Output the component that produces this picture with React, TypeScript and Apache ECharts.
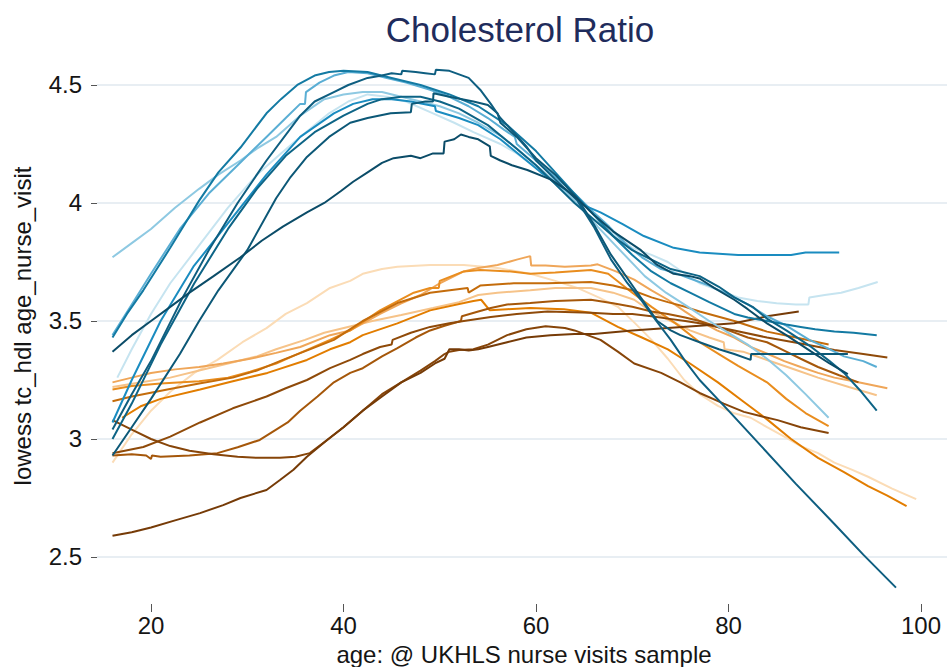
import React, { useEffect, useRef } from "react";
import * as echarts from "echarts";

// Axis ticks
const xTicks = [20, 40, 60, 80, 100];
const yTicks = [2.5, 3, 3.5, 4, 4.5];

// Lowess curves, [age, tc_hdl]
const bSky = [[16,3.77],[18,3.83],[20,3.89],[22.5,3.98],[25,4.06],[27,4.12],[29.3,4.18],[31,4.23],[33,4.28],[35.5,4.37],[38,4.44],[40,4.46],[42,4.47],[44,4.47],[46,4.45],[48,4.43],[50,4.41],[52,4.38],[54,4.34],[56.5,4.28],[58,4.23],[60,4.16],[62,4.09],[64,4.01],[66.4,3.9],[68.5,3.81],[71.3,3.69],[73.5,3.62],[75.8,3.56],[78,3.5],[80,3.45],[82,3.4],[84,3.34],[86,3.27],[88,3.19],[90.4,3.09]];
const bPale = [[16.5,3.26],[18,3.38],[20,3.53],[22,3.66],[25,3.82],[28,3.98],[31,4.12],[33.5,4.21],[35.5,4.28],[38.5,4.38],[40.5,4.43],[42.5,4.46],[44.5,4.45],[46.5,4.43],[49.3,4.38],[51.5,4.34],[53.5,4.3],[56.3,4.25],[58,4.21],[60,4.15],[62,4.08],[64,4.0],[66,3.93],[68,3.87],[70,3.81],[72,3.78],[73.7,3.75],[75.5,3.7],[77,3.66],[79,3.63],[81,3.6],[83,3.585],[85,3.575],[87,3.57],[88.3,3.57],[88.4,3.6],[90,3.61],[91.7,3.62],[93.5,3.64],[95.5,3.665]];
const bMid = [[16,3.44],[18,3.57],[20,3.7],[23,3.89],[26,4.04],[29,4.16],[32,4.28],[34,4.36],[35.5,4.42],[36,4.42],[36.1,4.47],[37.5,4.51],[39,4.54],[40.5,4.555],[42.5,4.55],[44.5,4.53],[46.5,4.51],[49,4.48],[51,4.45],[53,4.41],[55,4.36],[56.7,4.31],[57.8,4.28],[58,4.25],[60,4.18],[62,4.11],[64,4.04],[66,3.96],[67.6,3.9],[69.5,3.82],[71,3.77],[73,3.72],[74,3.71],[76,3.68],[78,3.65],[80.6,3.6],[82,3.57],[84,3.52],[86,3.48],[88.4,3.42],[90,3.39],[92,3.35],[94,3.33],[95.4,3.305]];
const bBright = [[16,3.07],[18,3.25],[21,3.5],[24.4,3.73],[28.5,3.94],[32,4.12],[35.5,4.28],[39,4.38],[41,4.42],[43,4.44],[45,4.44],[47,4.43],[49.5,4.41],[49.6,4.39],[52,4.36],[54,4.33],[56.3,4.27],[58.4,4.2],[60.5,4.13],[63.3,4.05],[65,3.99],[66.7,3.96],[69,3.91],[71.2,3.86],[74.3,3.81],[77,3.79],[79,3.785],[81,3.78],[83,3.78],[85,3.78],[86.5,3.78],[88,3.79],[90,3.79],[91.5,3.79]];
const bPeak = [[16,3.43],[17.5,3.53],[19.2,3.63],[22,3.81],[25,4.01],[27,4.13],[29.3,4.235],[32,4.38],[33.5,4.44],[35.2,4.5],[37,4.54],[38.5,4.555],[40,4.56],[42.5,4.555],[45,4.53],[48,4.5],[51,4.46],[54,4.41],[57,4.33],[60,4.22],[62,4.13],[64,4.04],[66,3.95],[68,3.86],[70,3.78],[72,3.71],[74,3.66],[76,3.62],[78,3.58],[80.6,3.53],[82,3.515],[84,3.5],[86,3.485],[87.5,3.475],[89,3.465],[91,3.455],[93,3.45],[95.4,3.44]];
const bDeep = [[16,3.0],[18,3.15],[21,3.4],[24.5,3.66],[28,3.89],[31,4.06],[34,4.2],[37,4.3],[40,4.37],[42.5,4.42],[44,4.44],[46,4.45],[48,4.45],[50,4.43],[52,4.4],[55,4.33],[58,4.23],[60,4.16],[62,4.08],[64,4.0],[66,3.93],[68,3.86],[70,3.8],[72,3.76],[74,3.72],[77,3.69],[79,3.645],[80.6,3.6],[82.5,3.56],[84,3.51],[86,3.46],[88.6,3.39],[90.5,3.33],[92,3.28],[93.8,3.2],[95.4,3.12]];
const bNavy = [[16,3.37],[18,3.44],[20,3.5],[22,3.56],[24,3.62],[26.5,3.69],[29.3,3.77],[31.5,3.84],[33.7,3.9],[36.2,3.96],[38,4.0],[39.7,4.05],[41,4.09],[42.5,4.13],[44,4.17],[45.2,4.19],[47,4.2],[48,4.19],[49.3,4.21],[50.4,4.21],[50.5,4.26],[51.5,4.27],[52.2,4.29],[53,4.28],[54,4.27],[55.2,4.24],[55.3,4.2],[56.3,4.18],[57.5,4.16],[59.1,4.14],[61.5,4.1],[63,4.06],[64.5,4.01],[66,3.95],[68,3.88],[70.9,3.8],[72.5,3.74],[74.3,3.7],[76,3.69],[77,3.68],[78.5,3.64],[80.6,3.59],[82,3.55],[84,3.49],[86,3.44],[88.6,3.37],[90.5,3.32],[92.4,3.275]];
const bHook = [[16,2.93],[18,3.05],[20,3.17],[23,3.36],[25,3.5],[27,3.63],[30,3.8],[33,4.02],[34.5,4.11],[36.2,4.195],[38.5,4.28],[40.7,4.34],[42.5,4.36],[44.9,4.38],[47,4.385],[47.1,4.42],[48.5,4.43],[49.3,4.43],[49.35,4.465],[51,4.45],[53.5,4.43],[55,4.415],[56,4.38],[56.3,4.34],[58,4.28],[60,4.19],[62,4.12],[64.3,4.02],[66,3.91],[67.8,3.78],[70.2,3.64],[72.6,3.5],[74,3.46],[75,3.44],[77,3.41],[79,3.38],[80.6,3.36],[82.3,3.335],[82.35,3.36],[84,3.36],[87,3.36],[90,3.36],[92.4,3.36]];
const bLong = [[16,3.04],[18,3.19],[20,3.33],[23.3,3.6],[26,3.8],[29,4.0],[32,4.18],[35.5,4.37],[37,4.43],[39,4.47],[40.5,4.5],[42.5,4.53],[44,4.54],[45,4.55],[46,4.545],[46.1,4.56],[47.5,4.555],[48.5,4.55],[49.5,4.545],[49.6,4.565],[51,4.56],[52,4.545],[53,4.53],[54.2,4.48],[55.3,4.42],[56.3,4.36],[57.7,4.3],[59,4.24],[60,4.18],[62,4.1],[64.3,4.01],[66,3.9],[67.8,3.76],[69.5,3.66],[70.9,3.59],[72.5,3.5],[74,3.42],[75.5,3.33],[77,3.25],[80,3.12],[83.4,2.97],[87,2.81],[91,2.64],[94,2.51],[97.4,2.37]];

const oPale = [[16,2.9],[18,3.02],[20,3.12],[22,3.2],[24.5,3.28],[26.9,3.335],[29.5,3.41],[32,3.47],[34,3.53],[36.2,3.576],[38.6,3.64],[40.7,3.67],[42,3.7],[44,3.72],[45.6,3.73],[49,3.737],[52.5,3.737],[56,3.725],[59.4,3.7],[62,3.67],[64.3,3.64],[66.5,3.6],[68.5,3.56],[70.3,3.49],[72,3.42],[73.7,3.34],[75.4,3.25],[77,3.19],[78.9,3.14],[80.5,3.11],[82.3,3.09],[84,3.05],[85.8,3.01],[87.5,2.97],[89.3,2.94],[91,2.9],[92.8,2.87],[94.5,2.84],[97,2.79],[99.5,2.745]];
const oLight2 = [[16,3.22],[19,3.24],[22,3.26],[25,3.29],[28,3.32],[31,3.35],[33,3.38],[36,3.42],[38,3.45],[41,3.48],[43,3.5],[46,3.525],[49.3,3.555],[52,3.58],[54,3.61],[56,3.62],[59.4,3.63],[62,3.64],[65.7,3.64],[68,3.62],[70.2,3.59],[72,3.54],[74,3.5],[76,3.46],[78,3.43],[79.5,3.41],[79.6,3.38],[81.5,3.37],[84,3.335],[86.5,3.3],[89.3,3.26],[92.5,3.22],[95.4,3.185]];
const oLight = [[16,3.24],[18,3.26],[20,3.28],[22.5,3.295],[25,3.305],[27.5,3.32],[30.3,3.34],[33,3.365],[35.5,3.39],[38.6,3.44],[40.7,3.46],[43.8,3.53],[46,3.575],[48,3.61],[50,3.66],[52.5,3.71],[54,3.725],[56,3.737],[58,3.76],[59.4,3.775],[59.5,3.735],[61,3.735],[63,3.73],[65.7,3.735],[66.4,3.74],[68.3,3.71],[70.2,3.675],[72,3.63],[73.7,3.59],[75.5,3.54],[77,3.5],[78.8,3.46],[80.6,3.43],[82.3,3.39],[84.1,3.36],[85.8,3.33],[87.5,3.305],[89.3,3.28],[91,3.26],[93.5,3.24],[96.5,3.215]];
const oOrange = [[16,3.21],[18,3.225],[21,3.235],[25,3.245],[28,3.26],[30.3,3.285],[33,3.32],[35.5,3.365],[38.6,3.42],[40.7,3.46],[43.8,3.545],[47.3,3.62],[49,3.64],[49.9,3.64],[50,3.67],[52.5,3.71],[54.2,3.716],[57.4,3.71],[59.4,3.7],[62,3.705],[65.7,3.716],[67.5,3.7],[70,3.62],[72,3.56],[74.5,3.49],[77,3.41],[79,3.36],[81,3.31],[84,3.24],[86,3.17],[88,3.11],[90.4,3.055]];
const oBright = [[17,3.09],[19,3.14],[21,3.17],[25.1,3.21],[28.5,3.245],[32.1,3.28],[36.2,3.335],[38.6,3.38],[40.7,3.41],[42,3.44],[45.6,3.49],[49,3.545],[52.5,3.576],[53.5,3.585],[54.3,3.59],[55.2,3.545],[57,3.55],[59.4,3.555],[62.9,3.55],[65.7,3.535],[68.5,3.475],[71,3.43],[73.7,3.38],[76,3.32],[78.9,3.24],[81.5,3.16],[84.1,3.08],[86.5,3.0],[89.3,2.92],[92,2.86],[94.5,2.8],[96.5,2.76],[98.5,2.716]];
const oDarkOr = [[16,3.16],[18,3.18],[21.7,3.21],[25,3.235],[28.5,3.26],[31,3.29],[33.7,3.335],[36.5,3.38],[39,3.42],[40.5,3.46],[42,3.5],[45.6,3.576],[49,3.62],[52.9,3.64],[53,3.62],[54.2,3.65],[57.7,3.66],[61.2,3.66],[65.7,3.665],[68,3.65],[70,3.63],[72,3.6],[73.7,3.58],[75.5,3.56],[77,3.54],[80.6,3.5],[84,3.455],[87,3.43],[90.4,3.4]];
const oBrownA = [[16,2.93],[18,2.935],[19.5,2.93],[20,2.915],[20.1,2.93],[21,2.925],[24,2.93],[26.9,2.94],[29,2.965],[31.3,2.996],[33,3.04],[34.2,3.07],[35.5,3.12],[37.3,3.18],[39,3.24],[40.7,3.28],[42,3.3],[44,3.35],[45.6,3.385],[47.5,3.43],[49,3.46],[50.5,3.48],[52.2,3.5],[52.3,3.52],[54,3.54],[55.3,3.555],[57,3.57],[59.4,3.576],[62,3.585],[65.7,3.59],[68,3.575],[70,3.56],[72,3.54],[73.7,3.53],[75.5,3.515],[77,3.5],[80,3.46],[82,3.43],[84,3.41],[86,3.37],[87.5,3.34],[89.3,3.305],[91.5,3.27],[93.5,3.24]];
const oBrownB = [[16,2.94],[19.2,2.966],[22,3.01],[25.1,3.07],[28.5,3.13],[32,3.18],[34,3.215],[36.2,3.25],[38.6,3.3],[40.7,3.335],[42,3.36],[43.8,3.39],[45,3.4],[45.1,3.42],[47,3.45],[49,3.475],[51,3.49],[52.5,3.5],[55.3,3.517],[58,3.53],[61.2,3.54],[65.7,3.535],[68,3.53],[70,3.53],[72,3.52],[73.7,3.51],[75.5,3.5],[77,3.49],[80.6,3.46],[84,3.43],[87.5,3.405],[91,3.377],[94,3.36],[96.5,3.345]];
const oU = [[16,3.08],[18,3.04],[20,3.0],[22,2.97],[24,2.95],[26.5,2.935],[29,2.925],[31,2.92],[33.4,2.92],[35,2.925],[36.5,2.94],[38.3,2.996],[40,3.05],[42,3.12],[44,3.19],[46,3.24],[48,3.29],[49.5,3.33],[50.5,3.36],[51,3.37],[52,3.377],[53.5,3.38],[55,3.4],[57,3.44],[59,3.465],[61,3.478],[63,3.47],[64,3.46],[66.7,3.42],[68.5,3.37],[70.2,3.32],[73,3.28],[75,3.24],[77,3.195],[79.5,3.15],[81.6,3.115],[83.5,3.095],[85.1,3.08],[87.5,3.05],[90.4,3.025]];
const oDarkest = [[16,2.59],[18,2.605],[20,2.625],[22.5,2.655],[25.1,2.686],[27.5,2.72],[29.3,2.75],[32,2.784],[33.4,2.826],[34.8,2.87],[36.2,2.925],[38.3,2.996],[40,3.05],[42,3.12],[44,3.18],[46,3.24],[48,3.28],[49.5,3.32],[50.5,3.34],[51,3.38],[52,3.38],[53,3.375],[54,3.38],[55,3.39],[57,3.41],[59,3.43],[61.5,3.44],[64,3.445],[66,3.445],[70,3.46],[73.7,3.47],[77,3.48],[80.6,3.49],[84,3.52],[87.3,3.54]];

// Drawing order and colours: orange family first, blues on top
const curves: [number[][], string][] = [
  [oPale, "#fbdcb6"],
  [oLight2, "#f6c389"],
  [oLight, "#efa659"],
  [oOrange, "#e98d1e"],
  [oBright, "#e27d00"],
  [oDarkOr, "#c46c0b"],
  [oBrownA, "#a5570a"],
  [oBrownB, "#8f4a09"],
  [oU, "#874509"],
  [oDarkest, "#763b07"],
  [bPale, "#c6e4f0"],
  [bSky, "#8ec9e2"],
  [bMid, "#5aaed4"],
  [bBright, "#1a8cc0"],
  [bPeak, "#137aa3"],
  [bDeep, "#0d6486"],
  [bHook, "#0c5877"],
  [bLong, "#0e5e80"],
  [bNavy, "#0b4c68"],
];

const FONT = "'Liberation Sans', Arial, Helvetica, sans-serif";
const TEXT = "#151515";

export default function App() {
  const ref = useRef<HTMLDivElement>(null);

  useEffect(() => {
    const chart = echarts.init(ref.current!, null, { renderer: "svg" });
    const option = {
      animation: false,
      backgroundColor: "#ffffff",
      grid: { left: 97, right: 0, top: 55, bottom: 63 },
      xAxis: {
        type: "value",
        min: 14.39,
        max: 102.7,
        axisLine: { show: false },
        axisTick: { show: true, customValues: xTicks, length: 8, lineStyle: { color: "#555", width: 1 } },
        axisLabel: { customValues: xTicks, fontSize: 24, color: TEXT, margin: 9, fontFamily: FONT },
        splitLine: { show: false },
      },
      yAxis: {
        type: "value",
        min: 2.3008,
        max: 4.6271,
        axisLine: { show: false },
        axisTick: { show: true, customValues: yTicks, length: 6, lineStyle: { color: "#555", width: 1 } },
        axisLabel: { customValues: yTicks, fontSize: 24, color: TEXT, margin: 15, fontFamily: FONT },
        splitLine: { show: false },
      },
      graphic: [
        {
          type: "text",
          x: 520,
          y: 29,
          style: { text: "Cholesterol Ratio", fill: "#1f2c5c", font: `35px ${FONT}`, textAlign: "center", textVerticalAlign: "middle" },
        },
        {
          type: "text",
          x: 524,
          y: 654,
          style: { text: "age: @ UKHLS nurse visits sample", fill: TEXT, font: `24px ${FONT}`, textAlign: "center", textVerticalAlign: "middle" },
        },
        {
          type: "text",
          x: 22,
          y: 326,
          rotation: Math.PI / 2,
          style: { text: "lowess tc_hdl age_nurse_visit", fill: TEXT, font: `24px ${FONT}`, textAlign: "center", textVerticalAlign: "middle" },
        },
      ],
      series: [
        {
          // horizontal grid lines at the y ticks, kept underneath the curves
          type: "line",
          data: [],
          z: 1,
          silent: true,
          markLine: {
            z: 1,
            silent: true,
            symbol: ["none", "none"],
            label: { show: false },
            emphasis: { disabled: true },
            lineStyle: { color: "#e8eef3", width: 2, type: "solid" },
            data: yTicks.map((v) => ({ yAxis: v })),
          },
        },
        ...curves.map(([pts, color], i) => ({
          type: "line",
          data: pts,
          z: 3 + i * 0.01,
          showSymbol: false,
          symbol: "none",
          silent: true,
          lineStyle: { color, width: 2 },
          itemStyle: { color },
        })),
      ],
    };
    chart.setOption(option as any);
    return () => chart.dispose();
  }, []);

  return (
    <div
      ref={ref}
      style={{ position: "fixed", left: 0, top: 0, width: 947, height: 667, background: "#fff" }}
    />
  );
}
